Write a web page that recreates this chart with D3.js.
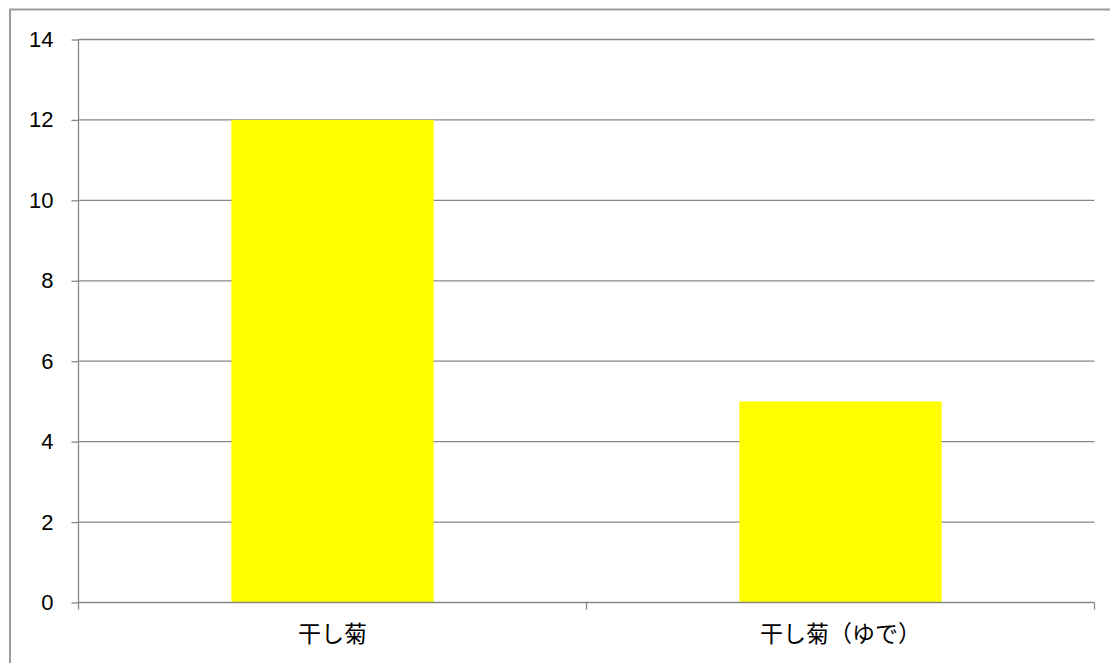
<!DOCTYPE html>
<html>
<head>
<meta charset="utf-8">
<script src="https://cdn.jsdelivr.net/npm/d3@7"></script>
<style>
  html, body { margin: 0; padding: 0; background: #fff; }
  svg { display: block; }
</style>
</head>
<body>
<svg id="chart" width="1110" height="663"></svg>
<script>
// Chart data
const categories = ["干し菊", "干し菊（ゆで）"];
const values = [12, 5];
const yTicks = [0, 2, 4, 6, 8, 10, 12, 14];

const svg = d3.select("#chart");
const W = 1110, H = 663;
const plot = { left: 78.5, right: 1094.5, top: 39.5, bottom: 602.5 };
const gridColor = "#878787";

// Outer chart frame
svg.append("rect")
  .attr("x", 10).attr("y", 9.5)
  .attr("width", W + 20).attr("height", H + 20)
  .attr("fill", "none")
  .attr("stroke", "#9a9a9a")
  .attr("stroke-width", 2);

const x = d3.scaleBand()
  .domain(categories)
  .range([plot.left, plot.right])
  .padding(0);

const y = d3.scaleLinear()
  .domain([0, 14])
  .range([plot.bottom, plot.top]);

// Horizontal gridlines
svg.append("g")
  .selectAll("line")
  .data(yTicks.filter(d => d > 0))
  .join("line")
  .attr("x1", plot.left).attr("x2", plot.right)
  .attr("y1", d => y(d)).attr("y2", d => y(d))
  .attr("stroke", gridColor)
  .attr("stroke-width", 1.3);

// Bars
const barFrac = 0.398;
svg.append("g")
  .selectAll("rect")
  .data(categories.map((c, i) => ({ c, v: values[i] })))
  .join("rect")
  .attr("x", d => x(d.c) + x.bandwidth() * (1 - barFrac) / 2)
  .attr("width", x.bandwidth() * barFrac)
  .attr("y", d => y(d.v))
  .attr("height", d => y(0) - y(d.v))
  .attr("fill", "#ffff00");

// Y axis
const yAxis = svg.append("g")
  .attr("transform", `translate(${plot.left},0)`)
  .call(d3.axisLeft(y).tickValues(yTicks).tickSize(7).tickPadding(18).tickFormat(d3.format("d")));
yAxis.select(".domain").attr("stroke", gridColor).attr("stroke-width", 1.3).attr("d", `M0,${plot.top}V${plot.bottom}`);
yAxis.selectAll(".tick line").attr("stroke", gridColor).attr("stroke-width", 1.3);
yAxis.selectAll(".tick text")
  .attr("fill", "#000")
  .style("font-family", "'Liberation Sans', Arial, sans-serif")
  .style("font-size", "22px");

// X axis
const xAxis = svg.append("g")
  .attr("transform", `translate(0,${plot.bottom})`)
  .call(d3.axisBottom(x).tickSize(0).tickPadding(23));
xAxis.select(".domain").remove();
xAxis.selectAll(".tick text")
  .attr("fill", "#000")
  .style("font-family", "'Noto Sans CJK JP', sans-serif")
  .style("font-size", "23px");

svg.append("line")
  .attr("x1", plot.left).attr("x2", plot.right)
  .attr("y1", plot.bottom).attr("y2", plot.bottom)
  .attr("stroke", gridColor).attr("stroke-width", 1.3);

// Category boundary ticks
const bounds = [plot.left, ...categories.map(c => x(c) + x.bandwidth())];
svg.append("g")
  .selectAll("line")
  .data(bounds)
  .join("line")
  .attr("x1", d => d).attr("x2", d => d)
  .attr("y1", plot.bottom).attr("y2", plot.bottom + 7)
  .attr("stroke", gridColor).attr("stroke-width", 1.3);
</script>
</body>
</html>
